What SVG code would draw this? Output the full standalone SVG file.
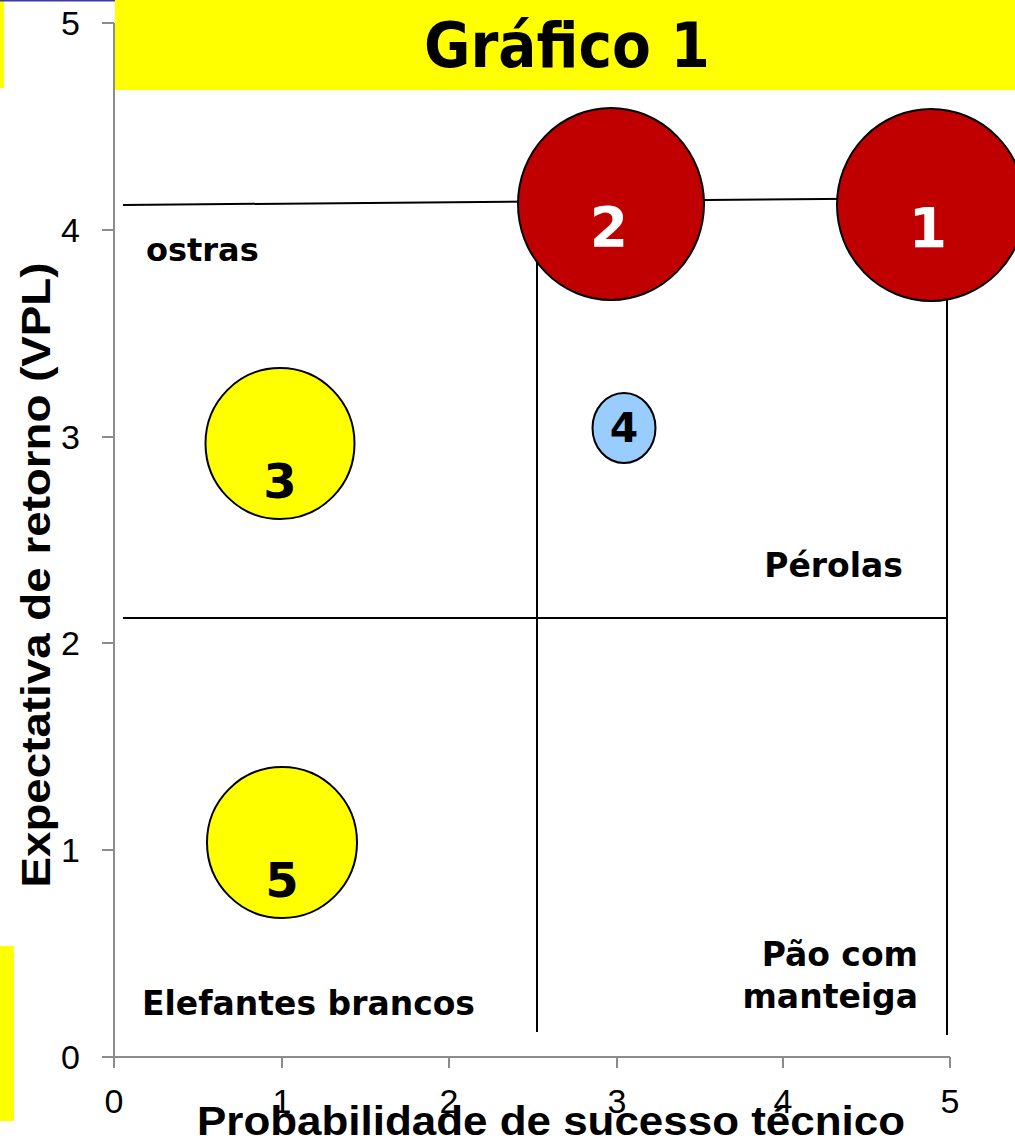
<svg xmlns="http://www.w3.org/2000/svg" width="1015" height="1141" viewBox="0 0 1015 1141">
<style>
.axis{stroke:#8c8c8c;stroke-width:2;fill:none}
.quad{stroke:#000;stroke-width:2;fill:none}
.tick{font-family:"Liberation Sans",Arial,sans-serif;font-size:34px;fill:#000}
.atitle{font-family:"Liberation Sans",Arial,sans-serif;font-size:40px;font-weight:bold;fill:#000}
.lbl{font-family:"DejaVu Sans",Verdana,sans-serif;font-size:32px;font-weight:bold;fill:#000}
.num{font-family:"DejaVu Sans",Verdana,sans-serif;font-weight:bold;text-anchor:middle}
.bub{stroke:#000;stroke-width:2}
</style>
<rect x="0" y="0" width="1015" height="1141" fill="#fff"/>
<rect x="0" y="0" width="4" height="88" fill="#ffff00"/>
<rect x="0" y="946" width="14" height="175" fill="#ffff00"/>
<line x1="0" y1="0.5" x2="115" y2="0.5" stroke="#3a3aa8" stroke-width="2"/>
<g id="title">
<rect x="115" y="0" width="900" height="90" fill="#ffff00"/>
<text x="567" y="67" font-family="DejaVu Sans,Verdana,sans-serif" font-size="62" font-weight="bold" text-anchor="middle" textLength="286" lengthAdjust="spacingAndGlyphs">Gráfico 1</text>
</g>
<g id="axes">
<path class="axis" d="M114 23V1057M102 23H114M102 230H114M102 437H114M102 643H114M102 850H114M102 1057H950"/>
<path class="axis" d="M114 1057V1068M282 1057V1068M449 1057V1068M617 1057V1068M783 1057V1068M950 1057V1068"/>
<g class="tick" text-anchor="end">
<text x="80" y="35">5</text>
<text x="80" y="242">4</text>
<text x="80" y="449">3</text>
<text x="80" y="655">2</text>
<text x="80" y="862">1</text>
<text x="80" y="1069">0</text>
</g>
<g class="tick" text-anchor="middle">
<text x="114" y="1113">0</text>
<text x="282" y="1113">1</text>
<text x="449" y="1113">2</text>
<text x="617" y="1113">3</text>
<text x="783" y="1113">4</text>
<text x="950" y="1113">5</text>
</g>
<text class="atitle" x="551" y="1135" text-anchor="middle" textLength="708" lengthAdjust="spacingAndGlyphs">Probabilidade de sucesso técnico</text>
<text class="atitle" transform="translate(50,575) rotate(-90)" text-anchor="middle" textLength="625" lengthAdjust="spacingAndGlyphs">Expectativa de retorno (VPL)</text>
</g>
<g id="connectors">
<line class="quad" x1="123" y1="205" x2="948" y2="198"/>
<line class="quad" x1="123" y1="618" x2="948" y2="618"/>
<line class="quad" x1="537" y1="200" x2="537" y2="1032"/>
<line class="quad" x1="947" y1="198" x2="947" y2="1035"/>
</g>
<g id="quadrant-labels" class="lbl">
<text x="146" y="261">ostras</text>
<text x="903" y="577" text-anchor="end" font-size="33">Pérolas</text>
<text x="142" y="1015" font-size="33" textLength="333" lengthAdjust="spacingAndGlyphs">Elefantes brancos</text>
<text x="918" y="966" text-anchor="end" font-size="33">Pão com</text>
<text x="918" y="1008" text-anchor="end" font-size="33">manteiga</text>
</g>
<g id="node-2">
<ellipse class="bub" cx="611" cy="204" rx="93" ry="96" fill="#c00000"/>
<text class="num" x="609" y="246" font-size="55" fill="#fff">2</text>
</g>
<g id="node-1">
<ellipse class="bub" cx="931" cy="205" rx="94" ry="96" fill="#c00000"/>
<text class="num" x="928" y="247" font-size="55" fill="#fff">1</text>
</g>
<g id="node-3">
<ellipse class="bub" cx="280" cy="443.5" rx="74.5" ry="75.5" fill="#ffff00"/>
<text class="num" x="280" y="498" font-size="48" fill="#000">3</text>
</g>
<g id="node-4">
<ellipse class="bub" cx="624" cy="428" rx="31.5" ry="35" fill="#99ccff"/>
<text class="num" x="624" y="442" font-size="41" fill="#000">4</text>
</g>
<g id="node-5">
<ellipse class="bub" cx="282" cy="842.5" rx="75" ry="75.5" fill="#ffff00"/>
<text class="num" x="282" y="897" font-size="48" fill="#000">5</text>
</g>
</svg>
